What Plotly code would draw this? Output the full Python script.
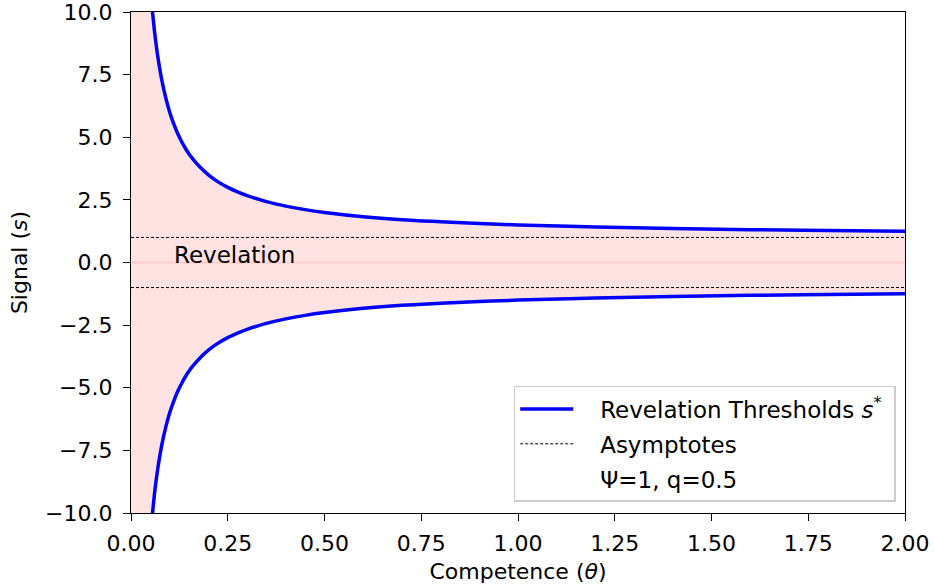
import plotly.graph_objects as go

# values
theta = [0.050, 0.055, 0.060, 0.065, 0.070, 0.075, 0.080, 0.090, 0.100, 0.110,
         0.120, 0.130, 0.140, 0.150, 0.160, 0.180, 0.200, 0.220, 0.250, 0.280,
         0.300, 0.350, 0.400, 0.450, 0.500, 0.600, 0.700, 0.800, 0.900, 1.000,
         1.200, 1.400, 1.600, 1.800, 2.000]
upper = [11.0, 10.09, 9.33, 8.69, 8.14, 7.67, 7.25, 6.56, 6.00, 5.55,
         5.17, 4.85, 4.57, 4.33, 4.13, 3.78, 3.50, 3.27, 3.00, 2.79,
         2.67, 2.43, 2.25, 2.11, 2.00, 1.83, 1.71, 1.63, 1.56, 1.50,
         1.42, 1.36, 1.31, 1.28, 1.25]
lower = [-11.0, -10.09, -9.33, -8.69, -8.14, -7.67, -7.25, -6.56, -6.00, -5.55,
         -5.17, -4.85, -4.57, -4.33, -4.13, -3.78, -3.50, -3.27, -3.00, -2.79,
         -2.67, -2.43, -2.25, -2.11, -2.00, -1.83, -1.71, -1.63, -1.56, -1.50,
         -1.42, -1.36, -1.31, -1.28, -1.25]
asym_hi = 1.0
asym_lo = -1.0
x_range = [0.0, 2.0]
y_range = [-10.0, 10.0]
fill_edge = 100.0  # thresholds diverge as theta -> 0 (off-chart)

FONT = "DejaVu Sans"
FS = 22
LFS = 23
PAD = "\u00a0\u00a0\u00a0"
fig = go.Figure()

# Revelation region fill
fx = [0.0] + theta + theta[::-1] + [0.0]
fy = [fill_edge] + upper + lower[::-1] + [-fill_edge]
fig.add_trace(go.Scatter(x=fx, y=fy, fill="toself", mode="none",
                         fillcolor="rgba(255,0,0,0.11)", showlegend=False,
                         hoverinfo="skip"))
# faint overlap line at zero
fig.add_trace(go.Scatter(x=x_range, y=[0, 0], mode="lines",
                         line=dict(color="rgba(255,120,120,0.22)", width=2),
                         showlegend=False, hoverinfo="skip"))

fig.add_trace(go.Scatter(x=theta, y=upper, mode="lines", line_shape="spline",
                         line=dict(color="#0000ff", width=3.5), legendgroup="a",
                         name=PAD + "Revelation Thresholds <i>s</i><sup>*</sup>\u00a0"))
fig.add_trace(go.Scatter(x=theta, y=lower, mode="lines", line_shape="spline",
                         line=dict(color="#0000ff", width=3.5), legendgroup="a",
                         showlegend=False))
fig.add_trace(go.Scatter(x=x_range, y=[asym_hi, asym_hi], mode="lines",
                         line=dict(color="black", width=1, dash="3px,2px"),
                         legendgroup="b", name=PAD + "Asymptotes"))
fig.add_trace(go.Scatter(x=x_range, y=[asym_lo, asym_lo], mode="lines",
                         line=dict(color="black", width=1, dash="3px,2px"),
                         legendgroup="b", showlegend=False))
fig.add_trace(go.Scatter(x=[None], y=[None], mode="lines",
                         line=dict(color="rgba(0,0,0,0)", width=0),
                         legendgroup="c", name=PAD + "Ψ=1, q=0.5"))

fig.add_annotation(x=0.106, y=0.3, text="Revelation", showarrow=False,
                   xanchor="left", yanchor="middle",
                   font=dict(family=FONT, size=LFS, color="black"))

axis_common = dict(showline=True, linecolor="black", linewidth=1.3, mirror=True,
                   ticks="outside", ticklen=7, tickcolor="black", tickwidth=1.3,
                   showgrid=False, zeroline=False, automargin=False,
                   ticklabeloverflow="allow",
                   tickfont=dict(family=FONT, size=FS, color="black"))
fig.update_xaxes(range=x_range, dtick=0.25, tickformat=".2f",
                 ticklabelstandoff=3,
                 title=dict(text="Competence (<i>θ</i>)", standoff=9,
                            font=dict(family=FONT, size=FS, color="black")),
                 **axis_common)
fig.update_yaxes(range=y_range, dtick=2.5, tickformat=".1f",
                 ticklabelstandoff=6,
                 title=dict(text="Signal (<i>s</i>)", standoff=11,
                            font=dict(family=FONT, size=FS, color="black")),
                 **axis_common)

fig.update_layout(
    width=935, height=588,
    margin=dict(l=131, r=30, t=12, b=75, autoexpand=False),
    plot_bgcolor="white", paper_bgcolor="white",
    font=dict(family=FONT, size=FS, color="black"),
    legend=dict(x=0.988, y=0.022, xanchor="right", yanchor="bottom",
                bgcolor="rgba(255,255,255,0.8)", bordercolor="#cccccc",
                borderwidth=1.5, itemwidth=53, tracegroupgap=2,
                font=dict(family=FONT, size=LFS, color="black")),
)

fig.write_html("out.html", config={"displayModeBar": False},
               post_script="document.body.style.margin='0';"
                           "document.body.style.overflow='hidden';")
